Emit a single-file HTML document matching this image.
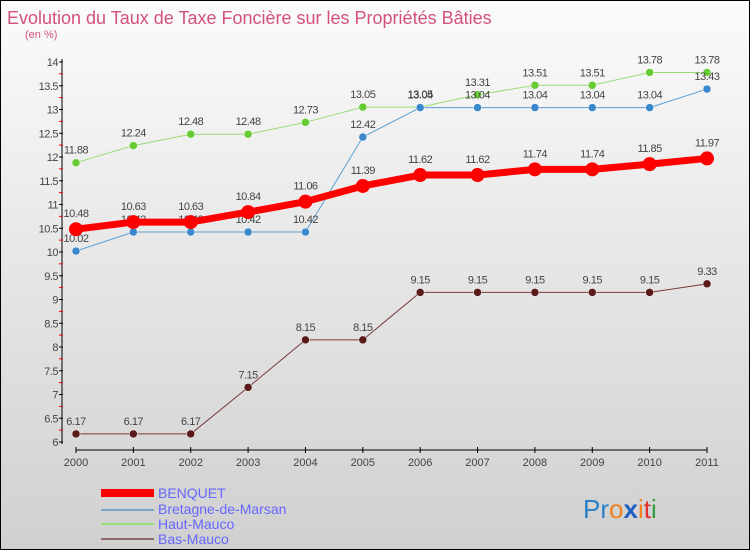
<!DOCTYPE html>
<html><head><meta charset="utf-8"><style>
body{margin:0}
#c{position:relative;width:748px;height:548px;border:1px solid #000;background:linear-gradient(#fbfbfb,#d0d0d0);font-family:"Liberation Sans",sans-serif;overflow:hidden}
</style></head><body>
<div id="c">
<svg id="s" width="748" height="548" style="position:absolute;left:0;top:0" font-family="Liberation Sans, sans-serif">
<text x="6" y="23" font-size="18" fill="#d2527a">Evolution du Taux de Taxe Foncière sur les Propriétés Bâties</text>
<text x="24" y="37" font-size="11" fill="#d2527a">(en %)</text>
<g id="axes"></g><g id="series"></g>
<g>
<rect x="100" y="488" width="53" height="8" fill="#f00"/>
<text x="157" y="497" font-size="14" fill="#6666ff">BENQUET</text>
<rect x="100" y="508" width="53" height="2" fill="#7aa7c8"/>
<text x="157" y="513" font-size="14" fill="#6666ff">Bretagne-de-Marsan</text>
<rect x="100" y="522" width="53" height="2" fill="#99dd77"/>
<text x="157" y="528" font-size="14" fill="#6666ff">Haut-Mauco</text>
<rect x="100" y="537" width="53" height="2" fill="#906868"/>
<text x="157" y="543" font-size="14" fill="#6666ff">Bas-Mauco</text>
</g>
<text x="582" y="517" font-size="26"><tspan fill="#2a7fc8">Pr</tspan><tspan fill="#f08020">o</tspan><tspan fill="#2060c0" font-weight="bold">x</tspan><tspan fill="#f08020">i</tspan><tspan fill="#e03030">t</tspan><tspan fill="#30a040">i</tspan></text>
</svg>
</div>
<script>
const years=[2000,2001,2002,2003,2004,2005,2006,2007,2008,2009,2010,2011];
const benquet=[10.48,10.63,10.63,10.84,11.06,11.39,11.62,11.62,11.74,11.74,11.85,11.97];
const bretagne=[10.02,10.42,10.42,10.42,10.42,12.42,13.04,13.04,13.04,13.04,13.04,13.43];
const hautMauco=[11.88,12.24,12.48,12.48,12.73,13.05,13.05,13.31,13.51,13.51,13.78,13.78];
const basMauco=[6.17,6.17,6.17,7.15,8.15,8.15,9.15,9.15,9.15,9.15,9.15,9.33];
const yTicks=[6,6.5,7,7.5,8,8.5,9,9.5,10,10.5,11,11.5,12,12.5,13,13.5,14];
const NS="http://www.w3.org/2000/svg";
const X=i=>75+i*(706-75)/(years.length-1);
const Y=v=>441-(v-6)*47.5;
function mk(p,t,a){const e=document.createElementNS(NS,t);for(const k in a)e.setAttribute(k,a[k]);p.appendChild(e);return e;}
const ax=document.getElementById('axes');
const yAxis=mk(ax,'line',{x1:61,y1:58,x2:61,y2:443,stroke:'#000'});


const xAxis=mk(ax,'line',{x1:75,y1:449,x2:706,y2:449,stroke:'#000'});


yTicks.forEach((v,k)=>{
  mk(ax,'line',{x1:58,x2:62,y1:Y(v),y2:Y(v),stroke:'#000'});
  if(k<yTicks.length-1) mk(ax,'line',{x1:58,x2:62,y1:Y(v)-11.9,y2:Y(v)-11.9,stroke:'#e00'});
  const t=mk(ax,'text',{x:57,y:Y(v)+4,'font-size':11,fill:'#444','text-anchor':'end','letter-spacing':'-0.5'});
  t.textContent=String(v);
  
  
});
years.forEach((y,i)=>{
  mk(ax,'line',{x1:X(i),x2:X(i),y1:446,y2:452,stroke:'#000'});
  const t=mk(ax,'text',{x:X(i),y:465,'font-size':11,fill:'#444','text-anchor':'middle'});
  t.textContent=y;
  
  
});
const sg=document.getElementById('series');
function draw(name,vals,color,dot,w,r){
  const g=mk(sg,'g',{});
  
  
  mk(g,'polyline',{points:vals.map((v,i)=>X(i)+','+Y(v)).join(' '),fill:'none',stroke:color,'stroke-width':w,'stroke-linejoin':'round'});
  vals.forEach((v,i)=>{
    const c=mk(g,'circle',{cx:X(i),cy:Y(v),r:r,fill:dot,stroke:w>2?'none':'#fff','stroke-width':0.5});
    
    
    const t=mk(g,'text',{x:X(i),y:Y(v)-(r+5),'font-size':11,fill:'#444','text-anchor':'middle','letter-spacing':'-0.5'});
    t.textContent=String(v);
    
    
  });
}
draw('bas-mauco',basMauco,'#7a3a3a','#5a1a1a',1,4);
draw('haut-mauco',hautMauco,'#99dd77','#66cc33',1,4);
draw('bretagne',bretagne,'#5a9fd4','#3a88cc',1,4);
draw('benquet',benquet,'#f00','#f00',7,7);
</script>
</body></html>
